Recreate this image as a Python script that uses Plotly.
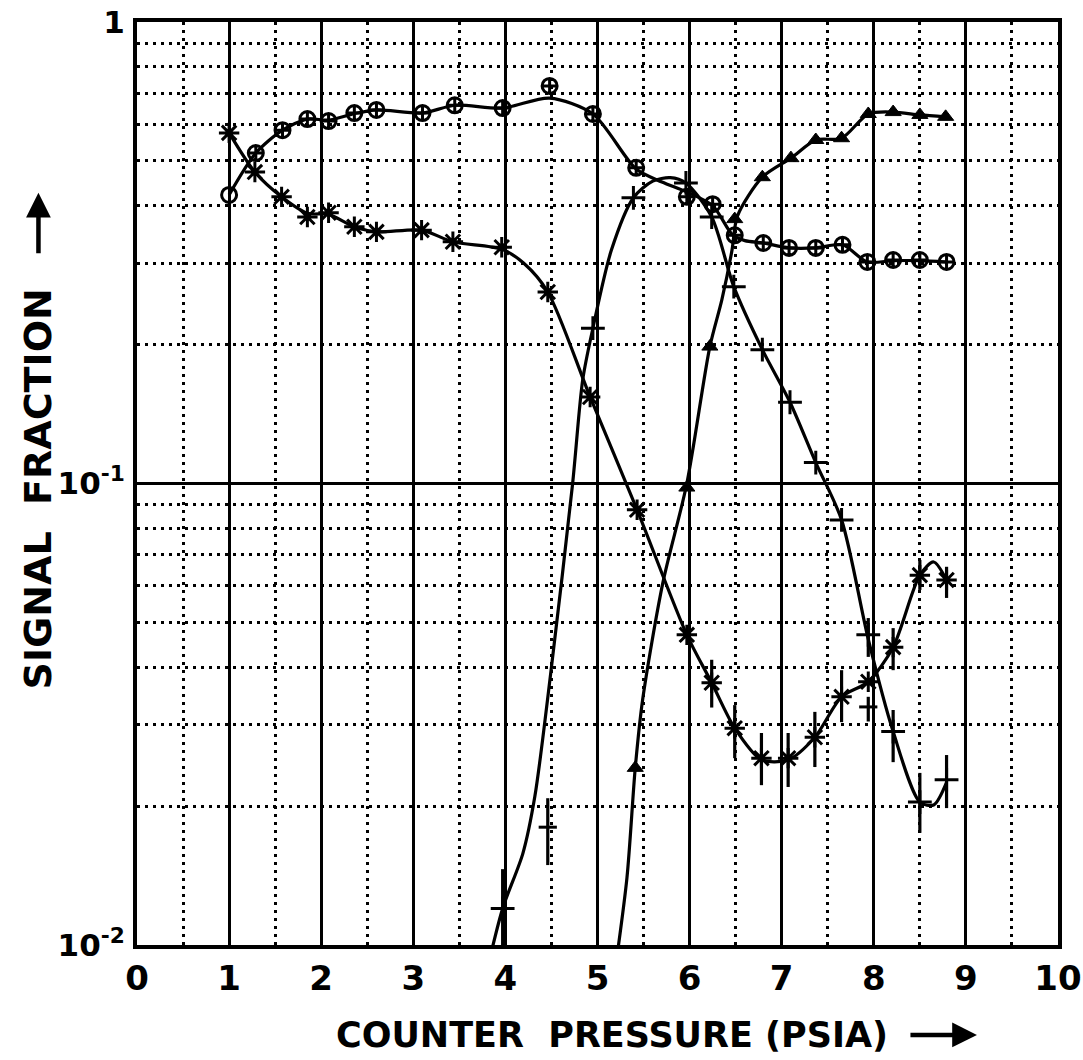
import plotly.graph_objects as go

# ---------------- data ----------------
# circle (⊕) series
circ_x = [1.0, 1.29, 1.58, 1.85, 2.08, 2.36, 2.6, 3.1, 3.45, 3.97, 4.48, 4.95, 5.42, 5.97, 6.25,
          6.49, 6.8, 7.08, 7.37, 7.66, 7.93, 8.21, 8.5, 8.79]
circ_y = [0.422, 0.52, 0.583, 0.616, 0.61, 0.635, 0.645, 0.635, 0.66, 0.651, 0.727, 0.632, 0.483,
          0.418, 0.403, 0.345, 0.332, 0.324, 0.324, 0.329, 0.302, 0.305, 0.305, 0.302]
circ_fit_x = [1.0, 1.29, 1.58, 1.85, 2.08, 2.36, 2.6, 3.1, 3.45, 3.97, 4.48, 4.95, 5.42, 5.7, 5.97,
              6.25, 6.47, 6.6, 6.8, 7.08, 7.37, 7.66, 7.93, 8.21, 8.5, 8.79]
circ_fit_y = [0.422, 0.52, 0.583, 0.616, 0.613, 0.633, 0.645, 0.635, 0.66, 0.651, 0.684, 0.632, 0.48,
              0.45, 0.428, 0.40, 0.345, 0.336, 0.332, 0.324, 0.324, 0.329, 0.302, 0.304, 0.304, 0.302]

# asterisk (x) series
ast_x = [1.0, 1.28, 1.57, 1.85, 2.08, 2.36, 2.6, 3.09, 3.43, 3.96, 4.46, 4.92, 5.43, 5.97, 6.24,
         6.49, 6.78, 7.07, 7.36, 7.65, 7.94, 8.21, 8.5, 8.79]
ast_y = [0.575, 0.473, 0.418, 0.378, 0.386, 0.36, 0.351, 0.354, 0.334, 0.325, 0.26, 0.154, 0.0877,
         0.047, 0.037, 0.0295, 0.0254, 0.0254, 0.0282, 0.0345, 0.0372, 0.0442, 0.0633, 0.0618]
ast_fit_x = [1.0, 1.28, 1.57, 1.85, 2.08, 2.36, 2.6, 3.09, 3.43, 3.96, 4.2, 4.46, 4.92, 5.43, 5.97,
             6.24, 6.49, 6.78, 7.07, 7.36, 7.65, 7.94, 8.21, 8.5, 8.65, 8.79]
ast_fit_y = [0.575, 0.473, 0.418, 0.385, 0.383, 0.36, 0.351, 0.354, 0.334, 0.322, 0.3, 0.26, 0.154,
             0.0877, 0.047, 0.037, 0.0295, 0.0252, 0.0252, 0.0282, 0.0345, 0.0372, 0.0442, 0.0633,
             0.0676, 0.0618]
ast_err_x = [6.24, 6.49, 6.78, 7.07, 7.36, 7.65, 8.21, 8.5, 8.79]
ast_err_mid = [0.037, 0.0295, 0.0254, 0.0254, 0.0282, 0.0345, 0.0442, 0.0633, 0.0618]
ast_err_hi = [0.0415, 0.0331, 0.0288, 0.0288, 0.032, 0.0394, 0.0486, 0.0683, 0.066]
ast_err_lo = [0.0327, 0.0254, 0.0222, 0.022, 0.0243, 0.0304, 0.0394, 0.0588, 0.0565]

# plus (+) series
plus_x = [3.97, 4.95, 5.39, 5.96, 6.24, 6.48, 6.79, 7.09, 7.37, 7.65, 7.94, 8.21, 8.5, 8.79]
plus_y = [0.012, 0.217, 0.416, 0.448, 0.378, 0.267, 0.195, 0.15, 0.111, 0.0834, 0.047, 0.029,
          0.0204, 0.0228]
plus_fit_x = [3.8, 3.97, 4.19, 4.32, 4.5, 4.73, 4.84, 4.95, 5.15, 5.39, 5.6, 5.79, 5.96, 6.24, 6.48,
              6.79, 7.09, 7.37, 7.65, 7.94, 8.21, 8.5, 8.65, 8.79]
plus_fit_y = [0.0088, 0.012, 0.0158, 0.021, 0.040, 0.1, 0.168, 0.217, 0.32, 0.416, 0.452, 0.46,
              0.448, 0.378, 0.267, 0.195, 0.15, 0.111, 0.0834, 0.046, 0.029, 0.0204, 0.0201, 0.0225]
plus_err_x = [3.97, 4.46, 7.94, 7.94, 8.21, 8.5, 8.79]
plus_err_mid = [0.012, 0.018, 0.047, 0.0328, 0.029, 0.0204, 0.0228]
plus_err_hi = [0.0146, 0.0208, 0.0511, 0.0345, 0.0323, 0.0236, 0.0258]
plus_err_lo = [0.009, 0.0149, 0.0421, 0.0305, 0.0249, 0.0175, 0.0198]
plus_extra_x = [4.46, 7.94]
plus_extra_y = [0.018, 0.0328]

# triangle series
tri_x = [5.41, 5.97, 6.22, 6.49, 6.79, 7.1, 7.37, 7.65, 7.94, 8.21, 8.5, 8.78]
tri_y = [0.0242, 0.098, 0.198, 0.374, 0.461, 0.507, 0.555, 0.56, 0.632, 0.638, 0.629, 0.623]
tri_fit_x = [5.19, 5.32, 5.41, 5.49, 5.71, 5.97, 6.22, 6.35, 6.46, 6.52, 6.79, 7.1, 7.37, 7.65,
             7.94, 8.21, 8.5, 8.78]
tri_fit_y = [0.0088, 0.014, 0.0242, 0.034, 0.061, 0.1, 0.198, 0.25, 0.32, 0.38, 0.461, 0.507,
             0.555, 0.56, 0.632, 0.638, 0.629, 0.623]

x_ticks = list(range(0, 11))
x_ticktext = [str(v) for v in x_ticks]
x_minor = [v + 0.5 for v in range(10)]
y_ticks = [0.01, 0.1, 1]
y_ticktext = ["10<sup>-2</sup>", "10<sup>-1</sup>", "1"]
y_minor = [k * d for d in (0.01, 0.1) for k in range(2, 10)]

# ---------------- figure ----------------
FONT = "DejaVu Sans"
LW = 3.2

fig = go.Figure()

def fit_line(xs, ys):
    fig.add_trace(go.Scatter(x=xs, y=ys, mode="lines",
                             line=dict(color="black", width=LW, shape="spline", smoothing=0.8),
                             hoverinfo="skip", showlegend=False))

def err_bars(xs, mid, hi, lo):
    fig.add_trace(go.Scatter(
        x=xs, y=mid, mode="markers", marker=dict(size=1, color="rgba(0,0,0,0)"),
        error_y=dict(type="data", symmetric=False,
                     array=[h - m for h, m in zip(hi, mid)],
                     arrayminus=[m - l for m, l in zip(mid, lo)],
                     color="black", thickness=3.2, width=0),
        showlegend=False, hoverinfo="skip"))

fit_line(circ_fit_x, circ_fit_y)
fit_line(ast_fit_x, ast_fit_y)
fit_line(plus_fit_x, plus_fit_y)
fit_line(tri_fit_x, tri_fit_y)

err_bars(ast_err_x, ast_err_mid, ast_err_hi, ast_err_lo)
err_bars(plus_err_x, plus_err_mid, plus_err_hi, plus_err_lo)

circ_symbols = ["circle-open"] + ["circle-cross-open"] * (len(circ_x) - 1)
fig.add_trace(go.Scatter(x=circ_x, y=circ_y, mode="markers", showlegend=False,
                         marker=dict(symbol=circ_symbols, size=15, color="black",
                                     line=dict(color="black", width=3))))
fig.add_trace(go.Scatter(x=ast_x, y=ast_y, mode="markers", showlegend=False,
                         marker=dict(symbol="asterisk-open", size=17, color="black",
                                     line=dict(color="black", width=3))))
fig.add_trace(go.Scatter(x=plus_x, y=plus_y, mode="markers", showlegend=False,
                         marker=dict(symbol="cross-thin-open", size=17, color="black",
                                     line=dict(color="black", width=3))))
fig.add_trace(go.Scatter(x=plus_extra_x, y=plus_extra_y, mode="markers", showlegend=False,
                         marker=dict(symbol="line-ew-open", size=13, color="black",
                                     line=dict(color="black", width=3))))
fig.add_trace(go.Scatter(x=tri_x, y=tri_y, mode="markers", showlegend=False,
                         marker=dict(symbol="triangle-up", size=14, color="black",
                                     line=dict(color="black", width=1))))

axis_common = dict(
    showgrid=True, gridcolor="black", gridwidth=3,
    showline=True, mirror=True, linecolor="black", linewidth=4,
    ticks="", zeroline=False, automargin=False, ticklabeloverflow="allow",
)

fig.update_xaxes(
    range=[0, 10], tickmode="array", tickvals=x_ticks, ticktext=x_ticktext,
    ticklabelstandoff=0,
    tickfont=dict(family=FONT, size=34, color="black", weight="bold"),
    minor=dict(tickmode="array", tickvals=x_minor, showgrid=True, gridcolor="black",
               griddash="3px,5px", gridwidth=3, ticks=""),
    **axis_common,
)
fig.update_yaxes(
    type="log", range=[-2, 0], tickmode="array", tickvals=y_ticks, ticktext=y_ticktext,
    ticklabelstandoff=2,
    tickfont=dict(family=FONT, size=31, color="black", weight="bold"),
    minor=dict(tickmode="array", tickvals=y_minor, showgrid=True, gridcolor="black",
               griddash="3px,5px", gridwidth=3, ticks=""),
    **axis_common,
)

fig.add_annotation(text="SIGNAL  FRACTION", textangle=-90, xref="paper", yref="paper",
                   x=-0.107, y=0.494, xanchor="center", yanchor="middle", showarrow=False,
                   font=dict(family=FONT, size=38, color="black", weight="bold"))
fig.add_annotation(text="COUNTER  PRESSURE (PSIA)", xref="paper", yref="paper",
                   x=0.516, y=-0.0975, xanchor="center", yanchor="middle", showarrow=False,
                   font=dict(family=FONT, size=35, color="black", weight="bold"))
# title arrows
fig.add_annotation(text="", xref="paper", yref="paper", x=0.912, y=-0.0975,
                   showarrow=True, ax=-68, ay=0, arrowhead=2, arrowsize=1.1, arrowwidth=4.5,
                   arrowcolor="black", standoff=0)
fig.add_annotation(text="", xref="paper", yref="paper", x=-0.107, y=0.815,
                   showarrow=True, ax=0, ay=62, arrowhead=2, arrowsize=1.1, arrowwidth=4.5,
                   arrowcolor="black", standoff=0)

fig.update_layout(
    width=1083, height=1060,
    margin=dict(l=137, r=25, t=22, b=115, autoexpand=False),
    paper_bgcolor="white", plot_bgcolor="white",
    showlegend=False,
)

# remove the default page margin so the figure sits at the window's top-left corner
fig.write_html("out.html", config={"displayModeBar": False},
               post_script="document.body.style.margin='0';")
